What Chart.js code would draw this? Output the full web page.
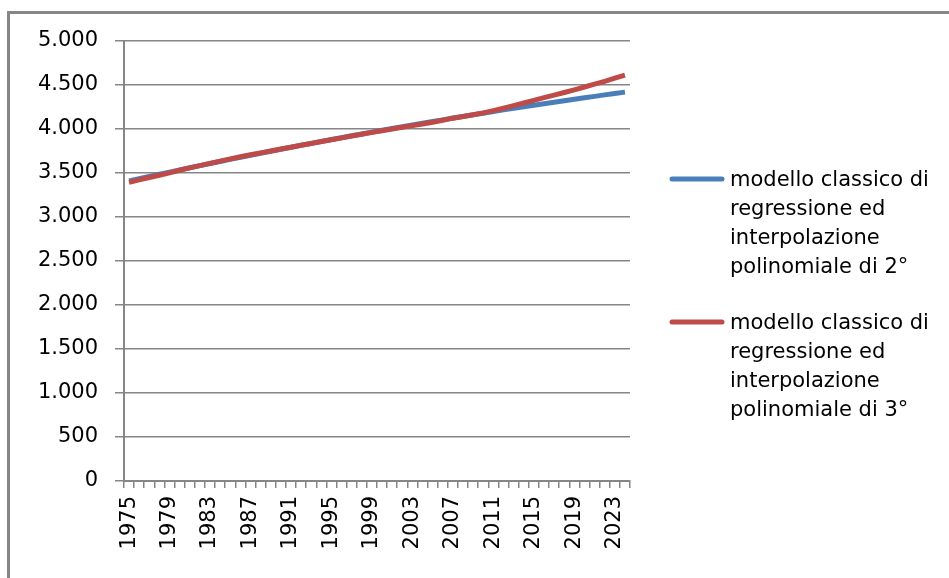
<!DOCTYPE html>
<html lang="it">
<head>
    <meta charset="UTF-8">
    <title>Modelli di regressione</title>
    <script src="https://cdn.jsdelivr.net/npm/chart.js"></script>
    <style>
        body { margin: 0; background: #fff; }
        .box { width: 949px; height: 578px; position: relative; }
    </style>
</head>
<body>
    <div class="box">
        <canvas id="grafico"></canvas>
    </div>

    <script>
        // anni 1975 - 2024
        const anni = [
            1975, 1976, 1977, 1978, 1979, 1980, 1981, 1982, 1983, 1984,
            1985, 1986, 1987, 1988, 1989, 1990, 1991, 1992, 1993, 1994,
            1995, 1996, 1997, 1998, 1999, 2000, 2001, 2002, 2003, 2004,
            2005, 2006, 2007, 2008, 2009, 2010, 2011, 2012, 2013, 2014,
            2015, 2016, 2017, 2018, 2019, 2020, 2021, 2022, 2023, 2024
        ];

        // polinomio di 2° grado
        const modello2 = [
            3410, 3435, 3461, 3486, 3510, 3535, 3559, 3584, 3608, 3631,
            3655, 3678, 3702, 3725, 3747, 3770, 3792, 3815, 3837, 3858,
            3880, 3901, 3923, 3944, 3964, 3985, 4005, 4026, 4046, 4065,
            4085, 4104, 4124, 4143, 4161, 4180, 4198, 4217, 4235, 4252,
            4270, 4287, 4305, 4322, 4338, 4355, 4371, 4388, 4404, 4419
        ];

        // polinomio di 3° grado
        const modello3 = [
            3394, 3422, 3449, 3475, 3501, 3531, 3558, 3584, 3610, 3635,
            3660, 3684, 3707, 3729, 3750, 3772, 3793, 3815, 3836, 3857,
            3878, 3899, 3920, 3941, 3962, 3981, 4000, 4019, 4038, 4057,
            4076, 4099, 4123, 4141, 4161, 4183, 4209, 4236, 4265, 4295,
            4325, 4356, 4385, 4415, 4445, 4477, 4509, 4542, 4577, 4612
        ];

        const nomi = [
            'modello classico di regressione ed interpolazione polinomiale di 2°',
            'modello classico di regressione ed interpolazione polinomiale di 3°'
        ];
        // righe della legenda (testo a capo come nell'originale)
        const righeLegenda = [
            ['modello classico di', 'regressione ed', 'interpolazione', 'polinomiale di 2°'],
            ['modello classico di', 'regressione ed', 'interpolazione', 'polinomiale di 3°']
        ];

        const yMin = 0, yMax = 5000, yPasso = 500;
        const ogniQuanti = 4; // etichetta asse x ogni 4 anni

        const grigio = '#868686';
        const font = '"DejaVu Sans", sans-serif';

        function puntini(v) {
            return String(v).replace(/\B(?=(\d{3})+(?!\d))/g, '.');
        }

        // cornice esterna grigia
        const cornice = {
            id: 'cornice',
            beforeDraw(chart) {
                const ctx = chart.ctx;
                ctx.save();
                ctx.strokeStyle = grigio;
                ctx.lineWidth = 3;
                ctx.strokeRect(8.5, 12.5, 1200, 1200);
                ctx.restore();
            }
        };

        // legenda a destra con testo su più righe
        const legendaLaterale = {
            id: 'legendaLaterale',
            afterDraw(chart) {
                const ctx = chart.ctx;
                ctx.save();
                ctx.font = '21px ' + font;
                ctx.textBaseline = 'middle';
                ctx.fillStyle = '#000';
                chart.data.datasets.forEach((ds, i) => {
                    const y0 = 181 + i * 143;
                    ctx.strokeStyle = ds.borderColor;
                    ctx.lineWidth = 5;
                    ctx.lineCap = 'round';
                    ctx.beginPath();
                    ctx.moveTo(672, y0 - 2);
                    ctx.lineTo(722, y0 - 2);
                    ctx.stroke();
                    righeLegenda[i].forEach((r, k) => {
                        ctx.fillText(r, 730, y0 + k * 29);
                    });
                });
                ctx.restore();
            }
        };

        new Chart(document.getElementById('grafico'), {
            type: 'line',
            data: {
                labels: anni,
                datasets: [
                    {
                        label: nomi[0],
                        data: modello2,
                        borderColor: '#4a7ebb',
                        borderWidth: 5,
                        pointRadius: 0,
                        tension: 0,
                        order: 1
                    },
                    {
                        label: nomi[1],
                        data: modello3,
                        borderColor: '#be4b48',
                        borderWidth: 5,
                        pointRadius: 0,
                        tension: 0,
                        order: 0
                    }
                ]
            },
            options: {
                responsive: true,
                maintainAspectRatio: false,
                animation: false,
                layout: { padding: { top: 41, right: 319, bottom: 0, left: 0 } },
                plugins: {
                    legend: { display: false },
                    tooltip: { enabled: false }
                },
                scales: {
                    x: {
                        offset: true,
                        grid: {
                            offset: true,
                            drawOnChartArea: false,
                            color: grigio,
                            tickLength: 7,
                            lineWidth: 1.5
                        },
                        border: { color: grigio, width: 2 },
                        ticks: {
                            autoSkip: false,
                            maxRotation: 90,
                            minRotation: 90,
                            padding: 8,
                            color: '#000',
                            font: { family: font, size: 21 },
                            callback(v, i) { return i % ogniQuanti === 0 ? anni[i] : ''; }
                        },
                        afterFit(s) { s.height = 97; }
                    },
                    y: {
                        min: yMin,
                        max: yMax,
                        grid: {
                            color: grigio,
                            tickLength: 9,
                            lineWidth: 1.5
                        },
                        border: { color: grigio, width: 2 },
                        ticks: {
                            stepSize: yPasso,
                            padding: 17,
                            color: '#000',
                            font: { family: font, size: 21 },
                            callback(v) { return puntini(v); }
                        },
                        afterFit(s) { s.width = 124; }
                    }
                }
            },
            plugins: [cornice, legendaLaterale]
        });
    </script>
</body>
</html>
